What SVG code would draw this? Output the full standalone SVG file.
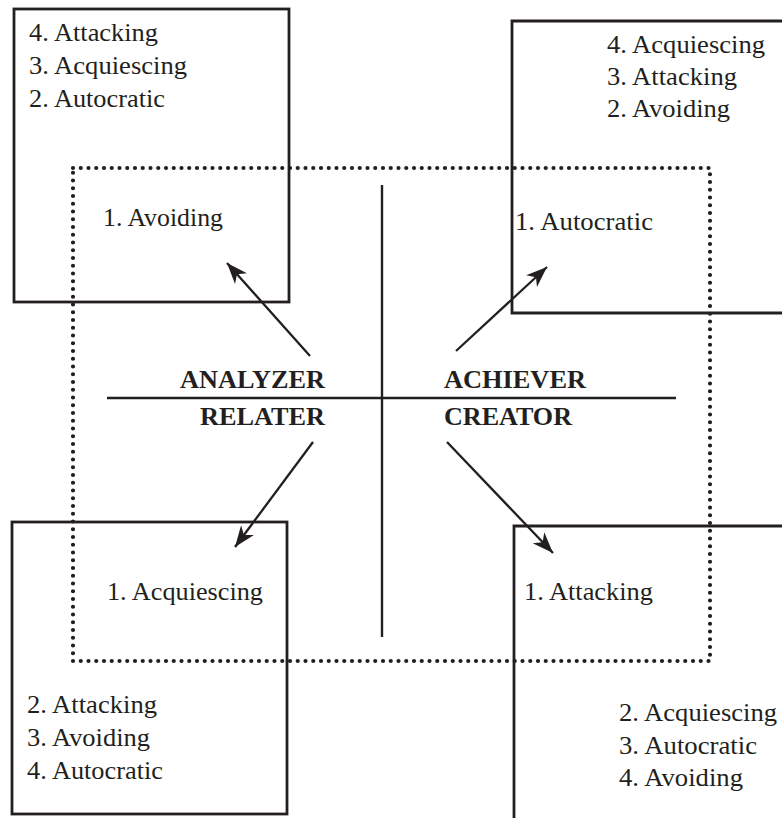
<svg xmlns="http://www.w3.org/2000/svg" width="782" height="818" viewBox="0 0 782 818">
<style>
.box{fill:none;stroke:#231f20;stroke-width:2.8}
.dots{fill:none;stroke:#231f20;stroke-width:4.2;stroke-linecap:round;stroke-dasharray:0 7.75}
.t{font-family:"Liberation Serif","Times New Roman",serif;font-size:25px;fill:#231f20}
.b{font-family:"Liberation Serif","Times New Roman",serif;font-size:26px;font-weight:bold;fill:#231f20}
.ax{stroke:#231f20;stroke-width:2.4}
.arr{stroke:#231f20;stroke-width:2.3;fill:none;marker-end:url(#ah)}
</style>
<defs>
<marker id="ah" markerUnits="userSpaceOnUse" viewBox="-22 -9 24 18" refX="0" refY="0" markerWidth="24" markerHeight="18" orient="auto">
<path d="M0,0 L-21,-8 L-15,0 L-21,8 Z" fill="#231f20"/>
</marker>
</defs>
<rect width="782" height="818" fill="#fff"/>

<g id="frame">
<rect class="dots" x="73" y="168" width="637" height="493"/>
</g>

<g id="node-top-left">
<rect class="box" x="14" y="9" width="275" height="293"/>
<text class="t" x="29" y="41" textLength="129" lengthAdjust="spacingAndGlyphs">4. Attacking</text>
<text class="t" x="29" y="74" textLength="158" lengthAdjust="spacingAndGlyphs">3. Acquiescing</text>
<text class="t" x="29" y="107" textLength="136" lengthAdjust="spacingAndGlyphs">2. Autocratic</text>
<text class="t" x="103" y="226" textLength="120" lengthAdjust="spacingAndGlyphs">1. Avoiding</text>
</g>

<g id="node-top-right">
<path class="box" d="M790,21 H512 V313 H790"/>
<text class="t" x="607" y="53" textLength="158" lengthAdjust="spacingAndGlyphs">4. Acquiescing</text>
<text class="t" x="607" y="85" textLength="130" lengthAdjust="spacingAndGlyphs">3. Attacking</text>
<text class="t" x="607" y="117" textLength="123" lengthAdjust="spacingAndGlyphs">2. Avoiding</text>
<text class="t" x="515" y="230" textLength="138" lengthAdjust="spacingAndGlyphs">1. Autocratic</text>
</g>

<g id="node-bottom-left">
<rect class="box" x="12" y="522" width="275" height="292"/>
<text class="t" x="107" y="600" textLength="156" lengthAdjust="spacingAndGlyphs">1. Acquiescing</text>
<text class="t" x="27" y="713" textLength="130" lengthAdjust="spacingAndGlyphs">2. Attacking</text>
<text class="t" x="27" y="746" textLength="123" lengthAdjust="spacingAndGlyphs">3. Avoiding</text>
<text class="t" x="27" y="779" textLength="136" lengthAdjust="spacingAndGlyphs">4. Autocratic</text>
</g>

<g id="node-bottom-right">
<path class="box" d="M790,526 H514 V830"/>
<text class="t" x="524" y="600" textLength="129" lengthAdjust="spacingAndGlyphs">1. Attacking</text>
<text class="t" x="619" y="721" textLength="158" lengthAdjust="spacingAndGlyphs">2. Acquiescing</text>
<text class="t" x="619" y="754" textLength="138" lengthAdjust="spacingAndGlyphs">3. Autocratic</text>
<text class="t" x="619" y="786" textLength="124" lengthAdjust="spacingAndGlyphs">4. Avoiding</text>
</g>

<g id="node-center">
<line class="ax" x1="107" y1="398" x2="676" y2="398"/>
<line class="ax" x1="382" y1="185" x2="382" y2="637"/>
<text class="b" x="180" y="388" textLength="145" lengthAdjust="spacingAndGlyphs">ANALYZER</text>
<text class="b" x="444" y="388" textLength="142" lengthAdjust="spacingAndGlyphs">ACHIEVER</text>
<text class="b" x="200" y="425" textLength="125" lengthAdjust="spacingAndGlyphs">RELATER</text>
<text class="b" x="444" y="425" textLength="128" lengthAdjust="spacingAndGlyphs">CREATOR</text>
</g>

<g id="connectors">
<line class="arr" x1="310" y1="356" x2="227" y2="263"/>
<line class="arr" x1="456" y1="351" x2="547" y2="267"/>
<line class="arr" x1="313" y1="442" x2="235" y2="547"/>
<line class="arr" x1="447" y1="442" x2="553" y2="553"/>
</g>
</svg>
